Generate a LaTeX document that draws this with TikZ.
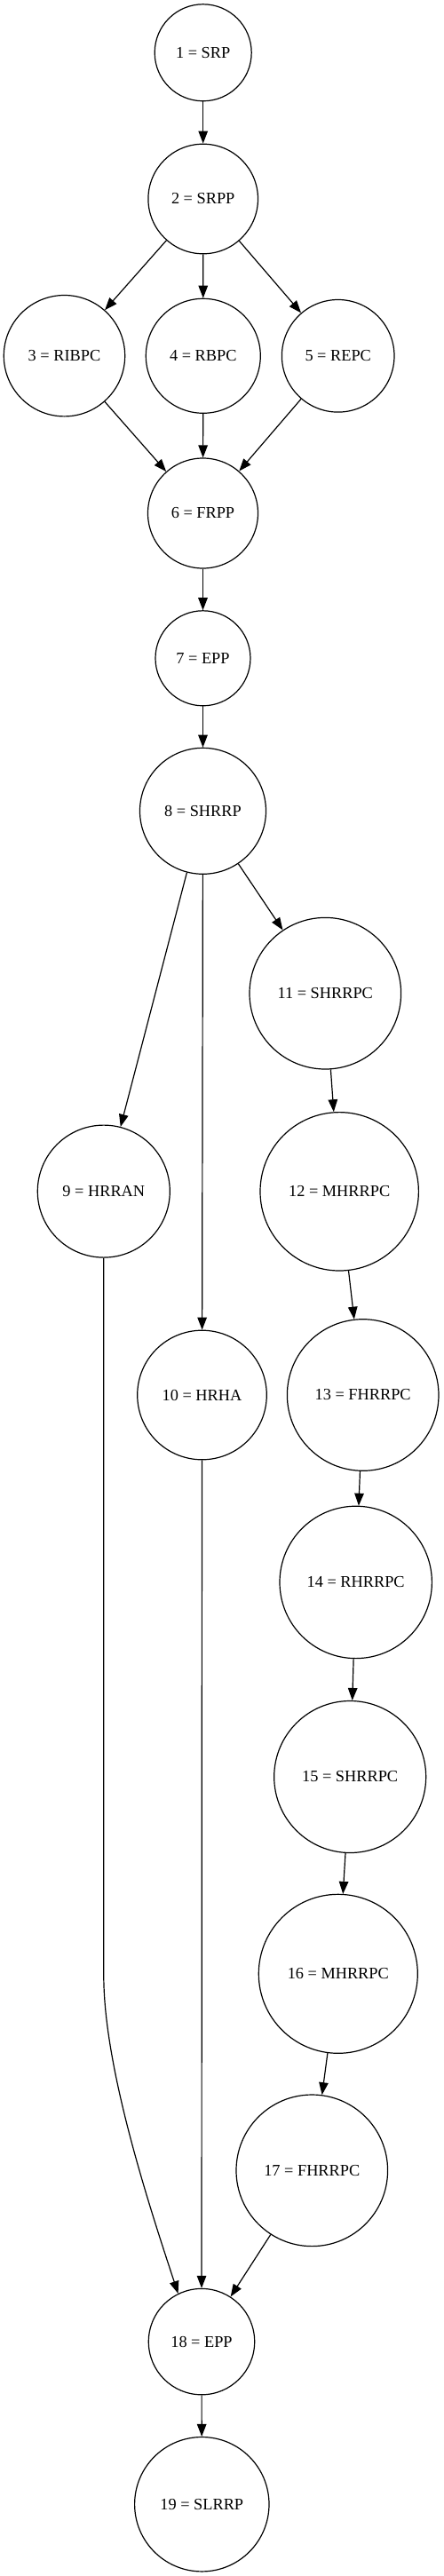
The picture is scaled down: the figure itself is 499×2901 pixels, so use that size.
\documentclass[tikz,border=0pt]{standalone}
\usepackage{fontspec}
\setmainfont{Liberation Serif}
\usetikzlibrary{arrows.meta}

\begin{document}
\begin{tikzpicture}[x=1pt,y=-1pt,>={Triangle[length=14pt,width=10.5pt]},
	line width=1.2pt,main node/.style={circle,draw,inner sep=0pt,
	font=\fontsize{18.3}{22}\selectfont}]
	\useasboundingbox (0,0) rectangle (499,2901);
	
	\node[main node,minimum size=109pt] (n1) at (228.7,59.3) {1 = SRP};
	\node[main node,minimum size=123.6pt] (n2) at (228.7,224) {2 = SRPP};
	\node[main node,minimum size=136.4pt] (n3) at (72.5,400.7) {3 = RIBPC};
	\node[main node,minimum size=129pt] (n4) at (228.8,400.8) {4 = RBPC};
	\node[main node,minimum size=126.6pt] (n5) at (380.7,400.8) {5 = REPC};
	\node[main node,minimum size=124pt] (n6) at (228.5,578) {6 = FRPP};
	\node[main node,minimum size=107pt] (n7) at (228.5,741.3) {7 = EPP};
	\node[main node,minimum size=142pt] (n8) at (228.5,913.3) {8 = SHRRP};
	\node[main node,minimum size=149pt] (n9) at (116.8,1341.6) {9 = HRRAN};
	\node[main node,minimum size=145.6pt] (n10) at (227.5,1571) {10 = HRHA};
	\node[main node,minimum size=170.6pt] (n11) at (366.3,1118.7) {11 = SHRRPC};
	\node[main node,minimum size=178.4pt] (n12) at (382.2,1341.8) {12 = MHRRPC};
	\node[main node,minimum size=170.6pt] (n13) at (408.7,1571) {13 = FHRRPC};
	\node[main node,minimum size=171.4pt] (n14) at (400.7,1781.9) {14 = RHRRPC};
	\node[main node,minimum size=171pt] (n15) at (394.2,2001) {15 = SHRRPC};
	\node[main node,minimum size=179pt] (n16) at (380.8,2222.8) {16 = MHRRPC};
	\node[main node,minimum size=170.6pt] (n17) at (351.3,2444.3) {17 = FHRRPC};
	\node[main node,minimum size=119.4pt] (n18) at (227,2637.1) {18 = EPP};
	\node[main node,minimum size=151.4pt] (n19) at (227.3,2820.2) {19 = SLRRP};
	\coordinate (c9) at (116.8,2225);
	
	\path[->]
	(n1) edge (n2)
	(n2) edge (n3)
	(n2) edge (n4)
	(n2) edge (n5)
	(n3) edge (n6)
	(n4) edge (n6)
	(n5) edge (n6)
	(n6) edge (n7)
	(n7) edge (n8)
	(n8) edge (n9)
	(n8) edge (n10)
	(n8) edge (n11)
	(n11) edge (n12)
	(n12) edge (n13)
	(n13) edge (n14)
	(n14) edge (n15)
	(n15) edge (n16)
	(n16) edge (n17)
	(n10) edge (n18)
	(n17) edge (n18)
	(n18) edge (n19);
	\draw[->] (n9) -- (c9) .. controls (116.8,2330) and (170,2490) .. (n18.116);
\end{tikzpicture}
\end{document}
